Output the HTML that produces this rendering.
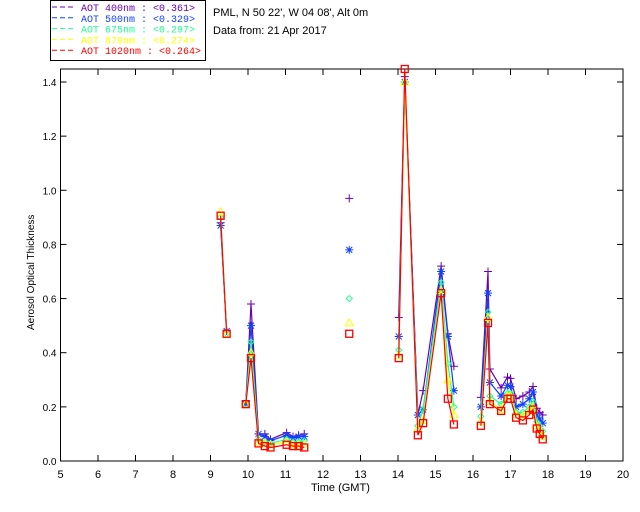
<!DOCTYPE html>
<html><head><meta charset="utf-8"><style>
html,body{margin:0;padding:0;background:#fff;}
svg{display:block;font-family:"Liberation Sans",sans-serif;}
</style></head><body>
<svg id="chart" width="640" height="512" viewBox="0 0 640 512" xmlns="http://www.w3.org/2000/svg">
<g>
<rect x="50.5" y="0.5" width="155" height="60" fill="#fff" stroke="#000"/>
</g>
<text x="213" y="16" font-size="11">PML, N 50 22', W 04 08', Alt 0m</text>
<text x="213" y="34" font-size="11">Data from: 21 Apr 2017</text>
<text transform="translate(34,330) rotate(-90)" font-size="10">Aerosol Optical Thickness</text>
<text x="311" y="491" font-size="11">Time (GMT)</text>
<g id="axes"></g>
<g id="series"></g>
<g id="leg"></g>
</svg>
<script>
const xTicks=[5,6,7,8,9,10,11,12,13,14,15,16,17,18,19,20];
const yTicks=[0,0.2,0.4,0.6,0.8,1.0,1.2,1.4];
const times=[9.27,9.43,9.94,10.08,10.28,10.45,10.6,11.03,11.2,11.35,11.5,12.7,14.02,14.18,14.53,14.67,15.15,15.33,15.49,16.21,16.4,16.45,16.75,16.92,17.0,17.15,17.33,17.5,17.6,17.7,17.78,17.86];
const aot400=[0.88,0.48,0.21,0.58,0.10,0.10,0.08,0.105,0.09,0.095,0.10,0.97,0.53,1.42,0.17,0.26,0.72,0.47,0.35,0.235,0.70,0.34,0.27,0.31,0.305,0.23,0.24,0.255,0.275,0.195,0.18,0.17];
const aot500=[0.87,0.48,0.21,0.50,0.10,0.09,0.075,0.095,0.085,0.09,0.09,0.78,0.46,1.40,0.17,0.19,0.70,0.46,0.26,0.20,0.62,0.29,0.24,0.28,0.275,0.20,0.21,0.23,0.255,0.17,0.155,0.14];
const aot675=[0.90,0.47,0.21,0.44,0.08,0.07,0.065,0.08,0.07,0.07,0.075,0.60,0.41,1.40,0.13,0.19,0.66,0.36,0.20,0.165,0.55,0.24,0.21,0.25,0.25,0.18,0.18,0.20,0.22,0.145,0.13,0.11];
const aot870=[0.92,0.47,0.21,0.40,0.07,0.065,0.06,0.07,0.06,0.06,0.06,0.51,0.39,1.40,0.12,0.15,0.63,0.30,0.17,0.145,0.53,0.22,0.19,0.24,0.24,0.17,0.165,0.185,0.20,0.13,0.115,0.09];
const aot1020=[0.906,0.47,0.21,0.38,0.065,0.055,0.05,0.06,0.055,0.055,0.05,0.47,0.38,1.45,0.095,0.14,0.62,0.23,0.135,0.13,0.51,0.21,0.185,0.23,0.23,0.16,0.15,0.17,0.19,0.12,0.10,0.08];
const names=['AOT  400nm : <0.361>','AOT  500nm : <0.329>','AOT  675nm : <0.297>','AOT  870nm : <0.274>','AOT 1020nm : <0.264>'];
const NS='http://www.w3.org/2000/svg';
const X0=60.5,X1=623,Y0=461,Y1=69,XMIN=5,XMAX=20,YMIN=0,YMAX=1.448;
const sx=t=>X0+(t-XMIN)/(XMAX-XMIN)*(X1-X0);
const sy=v=>Y0-(v-YMIN)/(YMAX-YMIN)*(Y0-Y1);
function mk(tag,attrs,parent){const e=document.createElementNS(NS,tag);for(const k in attrs)e.setAttribute(k,attrs[k]);parent.appendChild(e);return e;}
const axes=document.getElementById('axes');
const frame=mk('rect',{x:X0,y:Y1,width:X1-X0,height:Y0-Y1,fill:'none',stroke:'#000'},axes);


xTicks.forEach(t=>{
 const x=sx(t);
 const a=mk('line',{x1:x,x2:x,y1:Y0,y2:Y0-6,stroke:'#000'},axes);
 
 
 const b=mk('line',{x1:x,x2:x,y1:Y1,y2:Y1+6,stroke:'#000'},axes);
 
 
 const l=mk('text',{x:x,y:Y0+17,'font-size':11,'text-anchor':'middle'},axes);
 l.textContent=t;
 
 
});
yTicks.forEach(v=>{
 const y=sy(v);
 const a=mk('line',{x1:X0,x2:X0+6,y1:y,y2:y,stroke:'#000'},axes);
 
 
 const b=mk('line',{x1:X1,x2:X1-6,y1:y,y2:y,stroke:'#000'},axes);
 
 
 const l=mk('text',{x:X0-4,y:y+4,'font-size':10,'text-anchor':'end'},axes);
 l.textContent=v.toFixed(1);
 
 
});
const series=[aot400,aot500,aot675,aot870,aot1020];
const colors=['#6a00b0','#1040ff','#20ff90','#ffff00','#ff0000'];
const sg=document.getElementById('series');
function marker(i,x,y,g){
 const c=colors[i];let e;
 if(i===0){e=mk('path',{d:`M${x-4},${y}H${x+4}M${x},${y-4}V${y+4}`,stroke:c,fill:'none'},g);}
 else if(i===1){e=mk('path',{d:`M${x-4},${y}H${x+4}M${x},${y-4}V${y+4}M${x-3},${y-3}L${x+3},${y+3}M${x-3},${y+3}L${x+3},${y-3}`,stroke:c,fill:'none'},g);}
 else if(i===2){e=mk('path',{d:`M${x},${y-3}L${x+3},${y}L${x},${y+3}L${x-3},${y}Z`,stroke:c,fill:'none'},g);}
 else if(i===3){e=mk('path',{d:`M${x},${y-4}L${x+4},${y+3}L${x-4},${y+3}Z`,stroke:c,fill:'none'},g);}
 else {e=mk('rect',{x:x-3.5,y:y-3.5,width:7,height:7,stroke:c,fill:'none','stroke-width':1.3},g);}
 
 
}
series.forEach((vals,i)=>{
 const g=mk('g',{},sg);
 
 
 let seg=[];
 const flush=()=>{if(seg.length>1){const p=mk('polyline',{points:seg.join(' '),fill:'none',stroke:colors[i],'stroke-width':1.2},g);
 
 }seg=[];};
 times.forEach((t,k)=>{
  if(k>0&&t-times[k-1]>0.5)flush();
  seg.push(sx(t)+','+Math.max(Y1,sy(vals[k])));
 });
 flush();
 times.forEach((t,k)=>marker(i,sx(t),Math.max(Y1,sy(vals[k])),g));
});
const lg=document.getElementById('leg');
names.forEach((n,i)=>{
 const y=10+i*10.8;
 const l=mk('line',{x1:52,x2:75,y1:y-3,y2:y-3,stroke:colors[i],'stroke-dasharray':'5,3'},lg);
 
 
 const t=mk('text',{x:81,y:y+1,'font-size':10,fill:colors[i],'xml:space':'preserve','font-family':'"Liberation Mono",monospace'},lg);
 t.textContent=n;
 
 
});
</script>
</body></html>
